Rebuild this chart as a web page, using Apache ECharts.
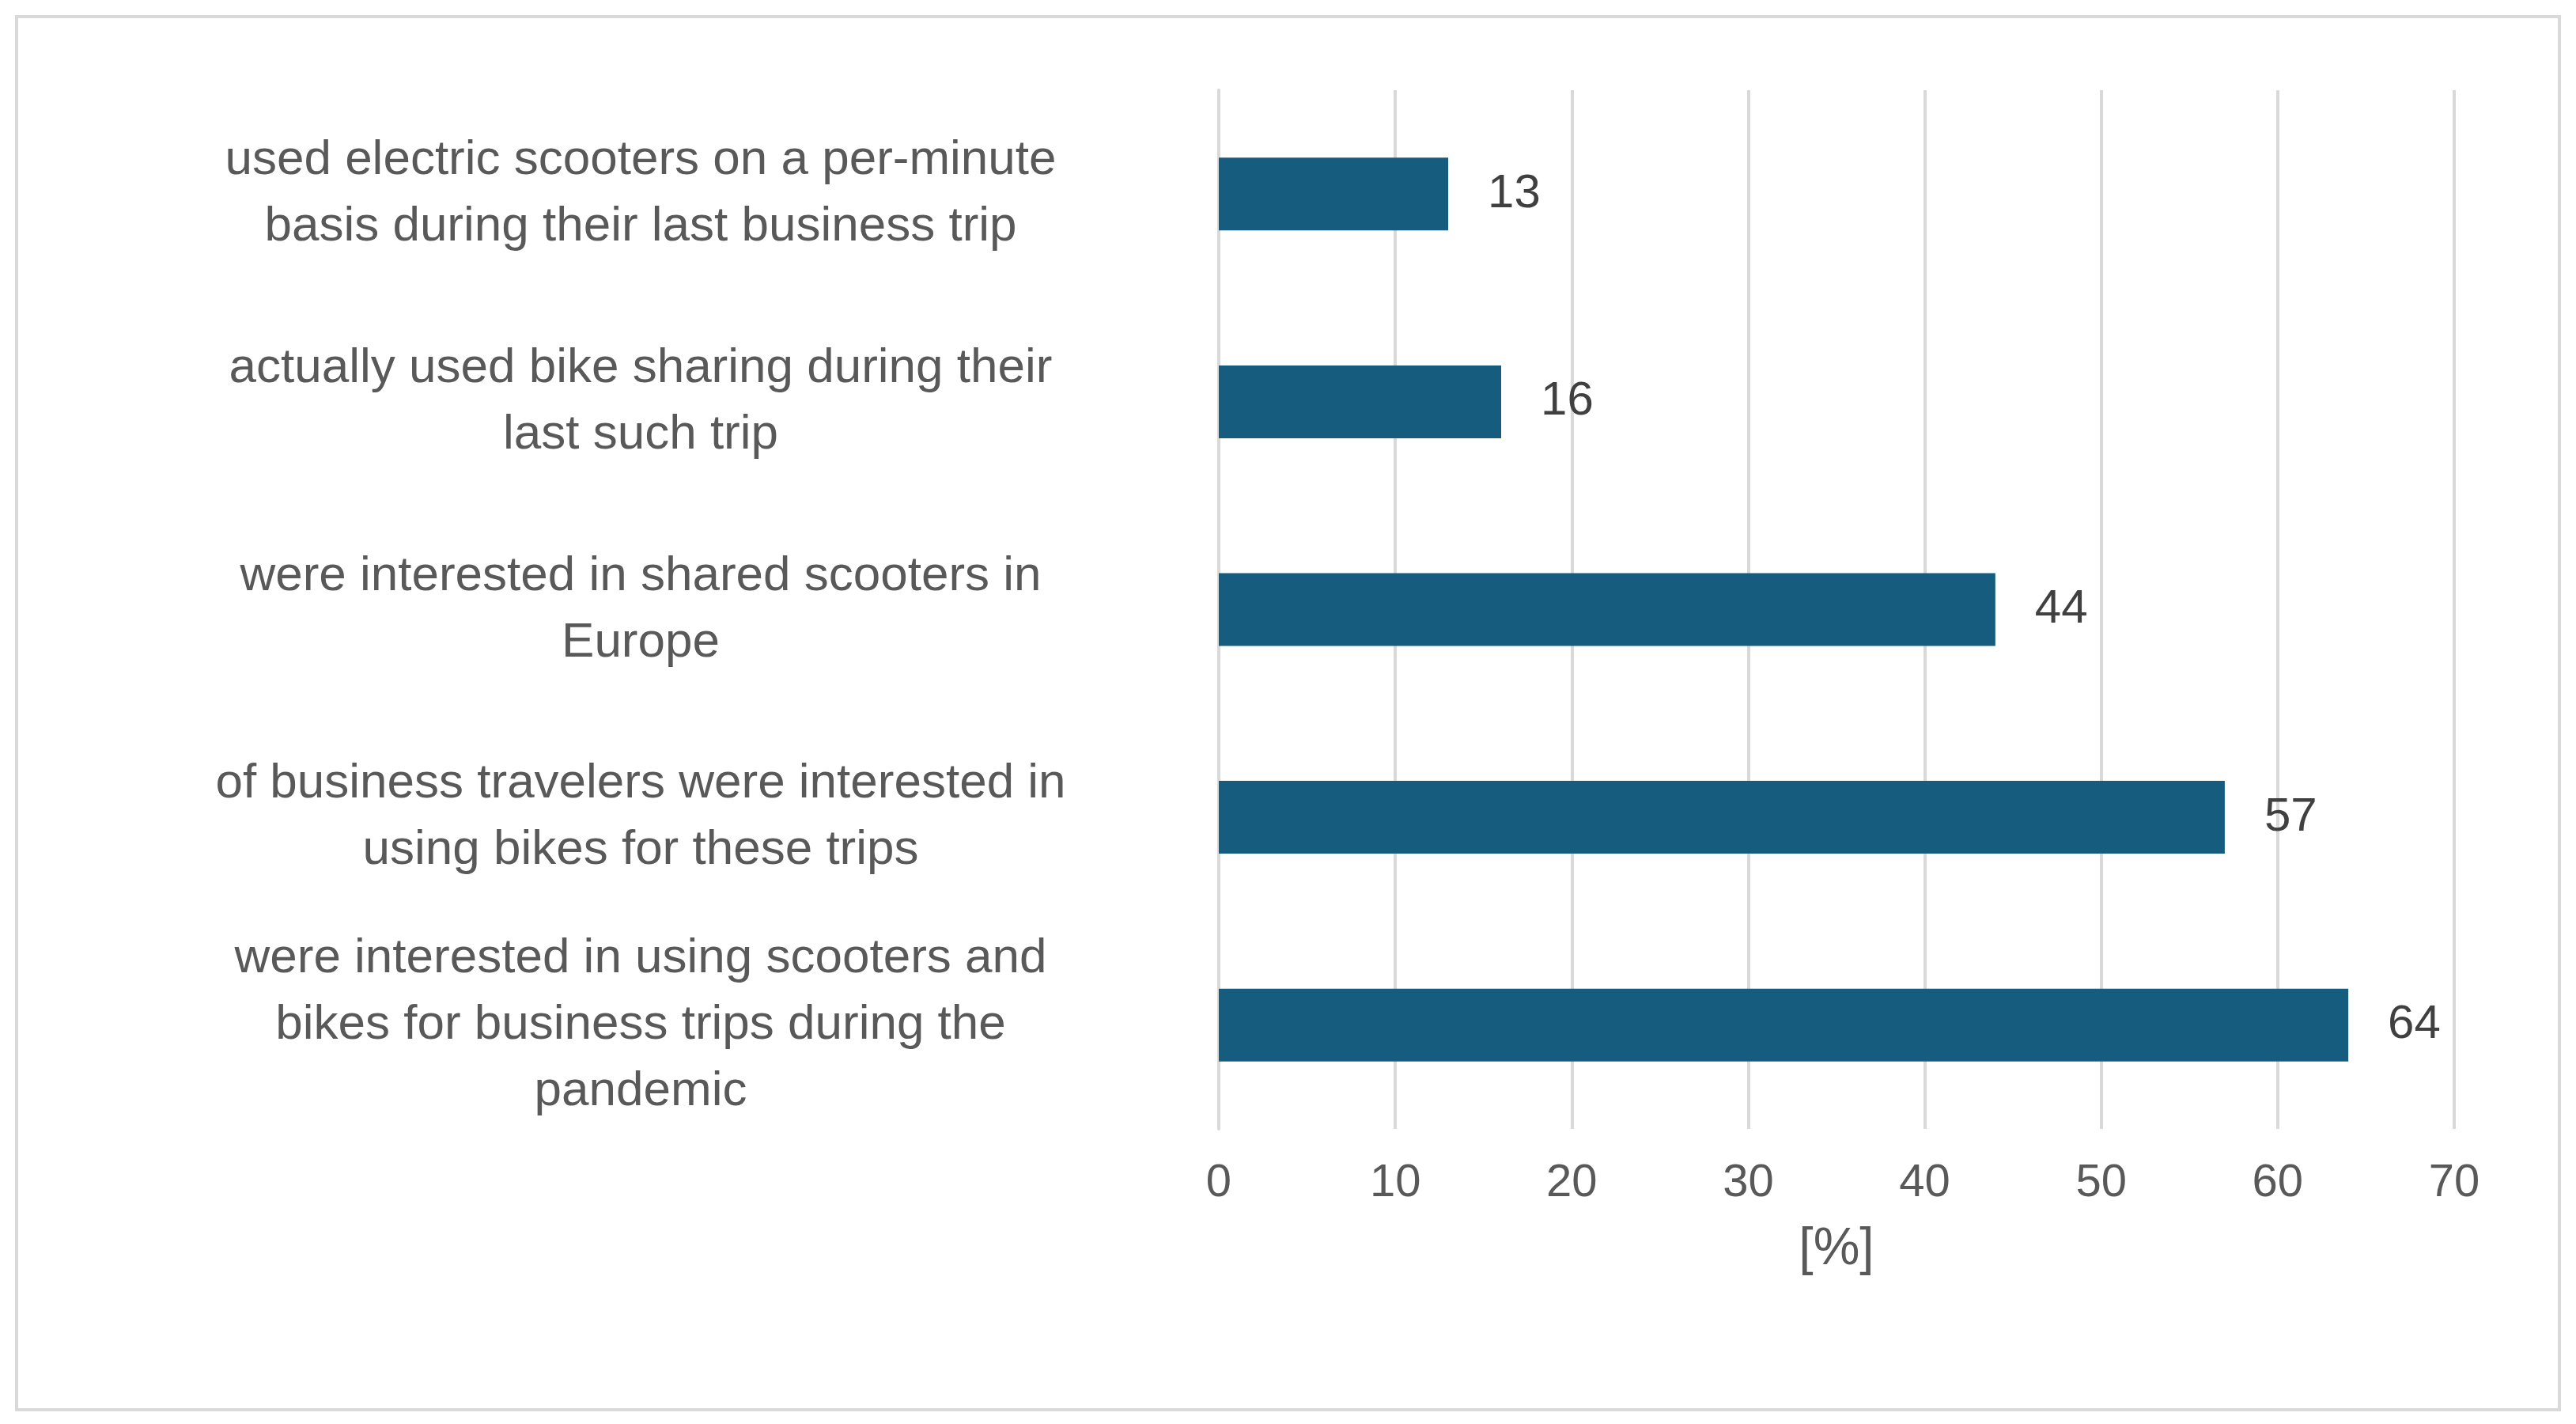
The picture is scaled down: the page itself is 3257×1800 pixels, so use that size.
<!DOCTYPE html>
<html>
<head>
<meta charset="utf-8">
<script src="https://cdn.jsdelivr.net/npm/echarts@6/dist/echarts.min.js"></script>
<style>html,body{margin:0;padding:0;background:#fff}#main{width:3257px;height:1800px}</style>
</head>
<body>
<div id="main"></div>
<script>
// categories listed bottom to top
var categories = [
  'were interested in using scooters and\nbikes for business trips during the\npandemic',
  'of business travelers were interested in\nusing bikes for these trips',
  'were interested in shared scooters in\nEurope',
  'actually used bike sharing during their\nlast such trip',
  'used electric scooters on a per-minute\nbasis during their last business trip'
];
var values = [64, 57, 44, 16, 13];

var chart = echarts.init(document.getElementById('main'));
var option = {
  backgroundColor: '#fff',
  animation: false,
  textStyle: { fontFamily: 'Liberation Sans, Arial, sans-serif' },
  graphic: [{
    type: 'rect',
    shape: { x: 21, y: 21, width: 3215, height: 1761 },
    style: { fill: 'none', stroke: '#d9d9d9', lineWidth: 4 }
  }],
  grid: { left: 1541, right: 154, top: 114, bottom: 373 },
  xAxis: {
    type: 'value',
    min: 0, max: 70, interval: 10,
    name: '[%]',
    nameLocation: 'middle',
    nameGap: 120,
    nameTextStyle: { fontSize: 66, color: '#595959' },
    axisLine: { show: false },
    axisTick: { show: false },
    axisLabel: { fontSize: 58, color: '#595959', margin: 40 },
    splitLine: { lineStyle: { color: '#d9d9d9', width: 4 } }
  },
  yAxis: {
    type: 'category',
    data: categories,
    axisLine: { show: true, lineStyle: { color: '#d9d9d9', width: 4 } },
    axisTick: { show: false },
    axisLabel: {
      fontSize: 62, color: '#595959', align: 'center', margin: 731, lineHeight: 84
    }
  },
  series: [{
    type: 'bar',
    data: values,
    barWidth: 92,
    itemStyle: { color: '#155C7E' },
    label: { show: true, position: 'right', distance: 50, fontSize: 60, color: '#404040' }
  }]
};
chart.setOption(option);
window.onresize = function () { chart.resize(); };
</script>
</body>
</html>
